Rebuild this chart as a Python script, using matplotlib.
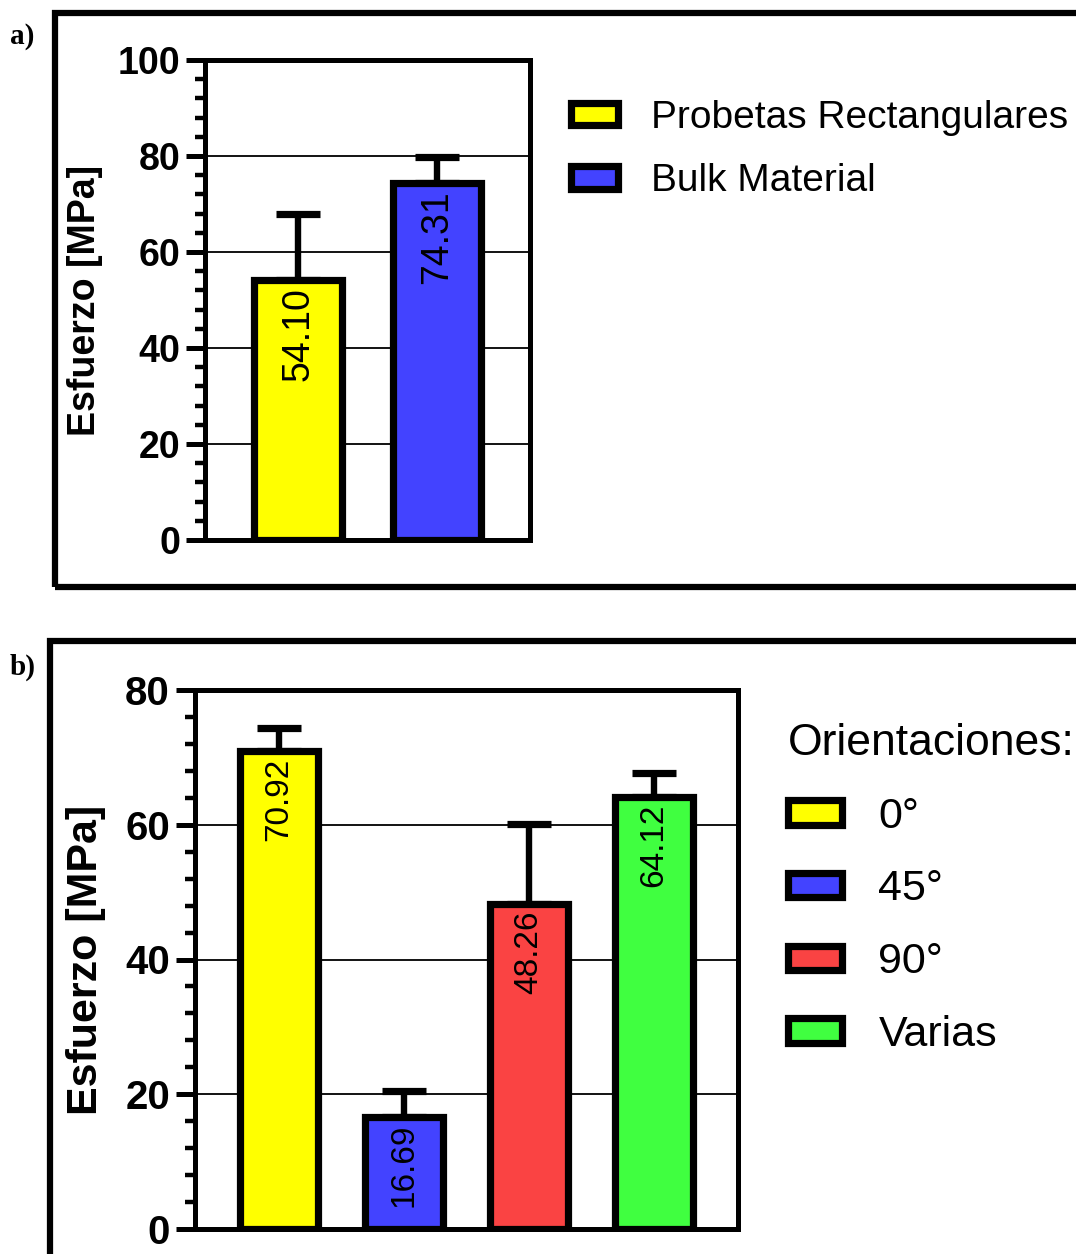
import matplotlib
matplotlib.use("Agg")
import matplotlib.pyplot as plt
from matplotlib.patches import Rectangle
from matplotlib.ticker import MultipleLocator

plt.rcParams['font.family'] = ['Liberation Sans', 'DejaVu Sans']

# panel a
a_labels = ['Probetas Rectangulares', 'Bulk Material']
a_values = [54.10, 74.31]
a_errors = [13.8, 5.5]
a_colors = ['#FFFF00', '#4343FF']

# panel b
b_labels = ['0°', '45°', '90°', 'Varias']
b_values = [70.92, 16.69, 48.26, 64.12]
b_errors = [3.4, 3.8, 11.8, 3.5]
b_colors = ['#FFFF00', '#4343FF', '#FA4343', '#40FF40']

W, H = 1076, 1254
fig = plt.figure(figsize=(W / 100, H / 100), dpi=100)


def fx(px):
    return px / W


def fy(py):
    return 1 - py / H


def panel(rect, labels, values, errors, colors, ymax, bar_w, xpad,
          tick_fs, ylab_fs, val_fs, ylab_pad):
    ax = fig.add_axes(rect)
    x = list(range(len(values)))
    bars = ax.bar(x, values, width=bar_w, color=colors, edgecolor='black',
                  linewidth=5.2, zorder=3, label=labels)
    ax.errorbar(x, values, yerr=[[0] * len(values), errors], fmt='none',
                ecolor='black', elinewidth=4.6, capsize=16, capthick=5.2,
                zorder=2)
    for xi, v in zip(x, values):
        ax.annotate(f'{v:.2f}', (xi, v), xytext=(0, -5),
                    textcoords='offset points', rotation=90, ha='center',
                    va='top', fontsize=val_fs, zorder=4)
    ax.set_xlim(-0.5 - xpad, len(values) - 0.5 + xpad)
    ax.set_ylim(0, ymax)
    ax.yaxis.set_major_locator(MultipleLocator(20))
    ax.yaxis.set_minor_locator(MultipleLocator(4))
    ax.set_xticks([])
    ax.yaxis.grid(True, which='major', color='black', linewidth=1.3)
    ax.set_axisbelow(True)
    for s in ax.spines.values():
        s.set_linewidth(3.6)
    ax.tick_params(axis='y', which='major', length=14, width=3.6,
                   labelsize=tick_fs, pad=4)
    ax.tick_params(axis='y', which='minor', length=7, width=3.2)
    for t in ax.get_yticklabels():
        t.set_fontweight('bold')
    ax.set_ylabel('Esfuerzo [MPa]', fontsize=ylab_fs, fontweight='bold',
                  labelpad=ylab_pad)
    return ax, bars


# frames
fig.add_artist(Rectangle((fx(55), fy(587)), 1.2, fy(13) - fy(587),
                         transform=fig.transFigure, fill=False,
                         edgecolor='black', linewidth=4.5, clip_on=False))
fig.add_artist(Rectangle((fx(50), fy(1256)), 1.2, fy(641) - fy(1256),
                         transform=fig.transFigure, fill=False,
                         edgecolor='black', linewidth=4.5, clip_on=False))

fig.text(fx(10), fy(37), 'a)', fontsize=21, fontweight='bold',
         family='Liberation Serif', va='center')
fig.text(fx(10), fy(667), 'b)', fontsize=21, fontweight='bold',
         family='Liberation Serif', va='center')

ax_a, bars_a = panel([fx(205), fy(540), fx(530) - fx(205), fy(60) - fy(540)],
                     a_labels, a_values, a_errors, a_colors, 100, 0.63, 0.17,
                     27, 27, 27, 10)
ax_a.legend(bars_a, a_labels, loc='upper left',
            bbox_to_anchor=(fx(571), fy(100)), bbox_transform=fig.transFigure,
            frameon=False, fontsize=28, handlelength=1.2, handleheight=0.5,
            handletextpad=0.85, labelspacing=0.70, borderpad=0,
            borderaxespad=0)

ax_b, bars_b = panel([fx(195), fy(1229), fx(738) - fx(195), fy(690) - fy(1229)],
                     b_labels, b_values, b_errors, b_colors, 80, 0.62, 0.17,
                     29, 31, 24, 14)
ax_b.legend(bars_b, b_labels, loc='upper left', title='Orientaciones:',
            title_fontsize=32, alignment='left',
            bbox_to_anchor=(fx(788), fy(723)), bbox_transform=fig.transFigure,
            frameon=False, fontsize=31, handlelength=1.25, handleheight=0.5,
            handletextpad=0.85, labelspacing=0.76, borderpad=0,
            borderaxespad=0)

fig.savefig('out.png', dpi=100)
